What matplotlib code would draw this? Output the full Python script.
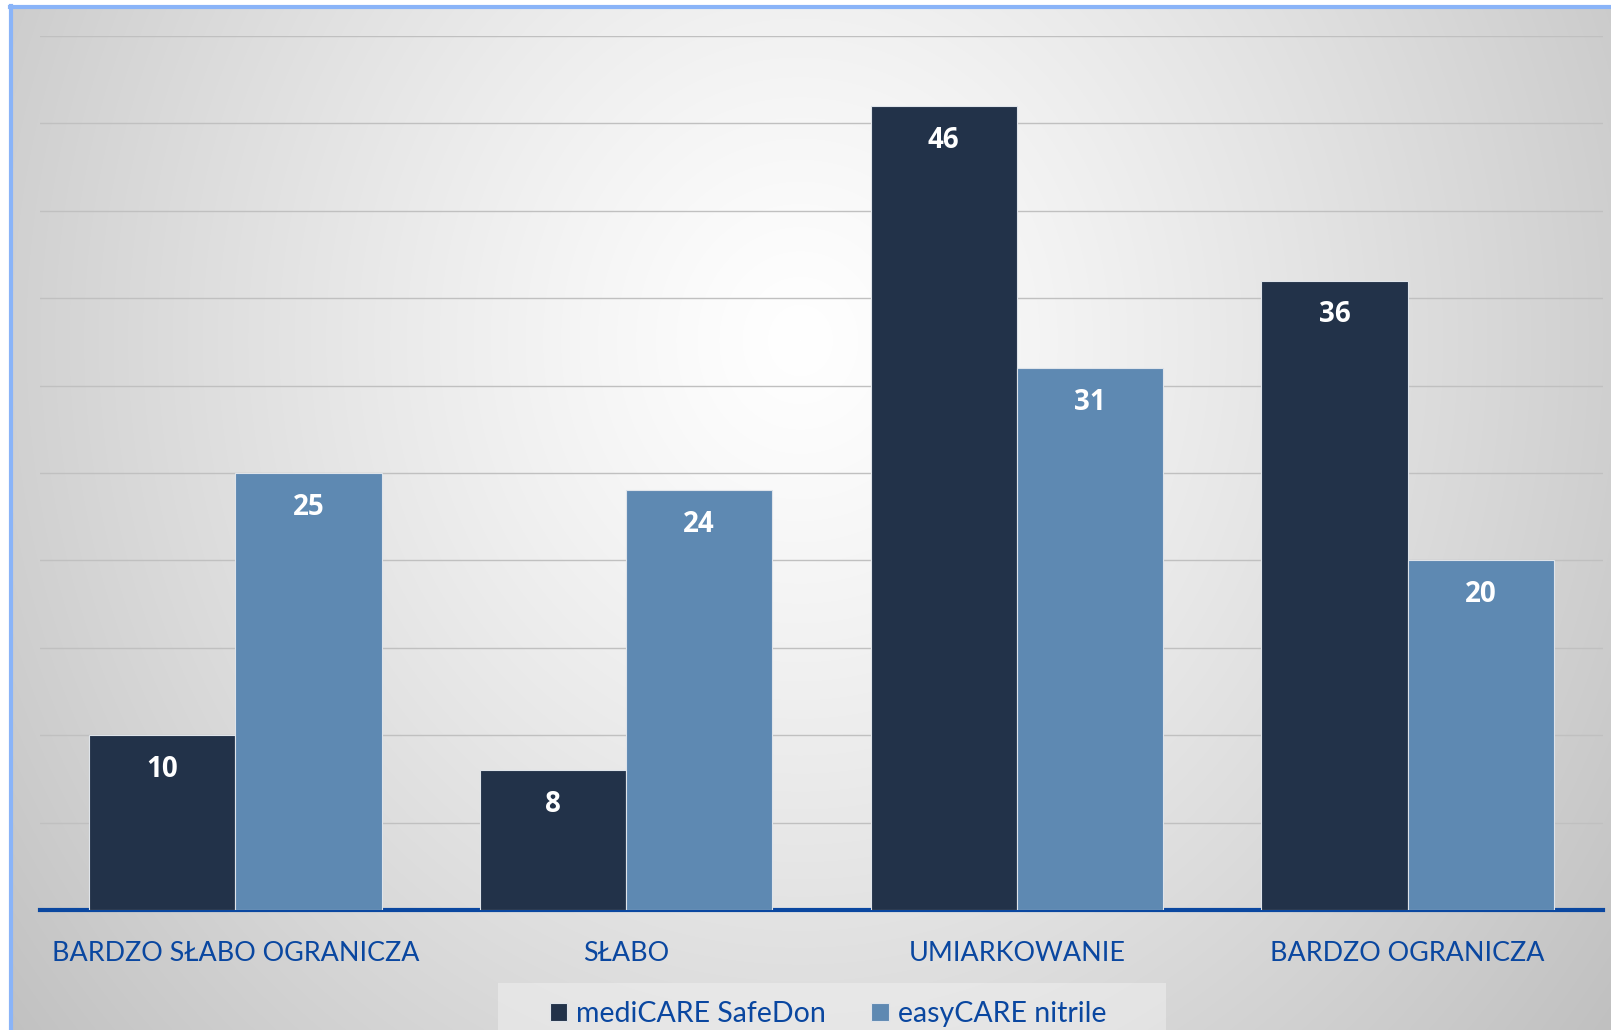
import matplotlib.pyplot as plt
import numpy as np

categories = ["BARDZO SŁABO OGRANICZA", "SŁABO", "UMIARKOWANIE", "BARDZO OGRANICZA"]
medicare = [10, 8, 46, 36]
easycare = [25, 24, 31, 20]
series_names = ["mediCARE SafeDon", "easyCARE nitrile"]

W, H = 1611, 1030
fig = plt.figure(figsize=(W / 100, H / 100), dpi=100)
fig.patch.set_facecolor("white")

# radial gradient background
bg = fig.add_axes([0, 0, 1, 1], zorder=0)
yy, xx = np.mgrid[0:H, 0:W]
d = np.sqrt(((xx - 800) / 1000.0) ** 2 + ((yy - 340) / 1100.0) ** 2)
g = np.clip(1.0 - 0.24 * d ** 1.2, 0, 1)
img = np.dstack([g, g, g])
img[:6, :, :] = 1.0
img[:, :10, :] = 1.0
bg.imshow(img, extent=(0, W, H, 0), aspect="auto", interpolation="bilinear")
# light blue frame
bg.plot([11, 11], [6, H], color="#8ab4f8", lw=3)
bg.plot([10, W], [7, 7], color="#8ab4f8", lw=3)
# lighter legend area
bg.add_patch(plt.Rectangle((498, 983), 668, 60, color="#f4f4f4", alpha=0.45, lw=0))
bg.set_xlim(0, W)
bg.set_ylim(H, 0)
bg.axis("off")

ax = fig.add_axes([40 / W, (H - 910) / H, (1603 - 40) / W, (910 - 36) / H], zorder=1)
ax.patch.set_alpha(0)

x = np.arange(len(categories))
bw = 0.374
dark = "#223249"
light = "#5e89b2"
b1 = ax.bar(x - bw / 2, medicare, bw, color=dark, edgecolor="#dfe4ea", lw=0.8, zorder=3,
            label=series_names[0])
b2 = ax.bar(x + bw / 2, easycare, bw, color=light, edgecolor="#dfe4ea", lw=0.8, zorder=3,
            label=series_names[1])

for bars, vals in ((b1, medicare), (b2, easycare)):
    for r, v in zip(bars, vals):
        ax.text(r.get_x() + r.get_width() / 2, v - 1.95, str(v), ha="center", va="center",
                color="white", fontsize=20, fontweight="bold", family="Open Sans", zorder=4)

ax.set_xlim(-0.5, 3.5)
ax.set_ylim(0, 50)
ax.set_yticks(np.arange(5, 51, 5))
ax.yaxis.grid(True, color="#c0c0c0", lw=1)
ax.set_axisbelow(True)
ax.tick_params(left=False, labelleft=False, bottom=False)
ax.set_xticks(x)
ax.set_xticklabels(categories, fontsize=19.4, color="#0a47a0", family="Lato")
ax.tick_params(axis="x", pad=18.5)
for s in ("top", "right", "left"):
    ax.spines[s].set_visible(False)
ax.spines["bottom"].set_color("#0a47a0")
ax.spines["bottom"].set_linewidth(3)

leg = fig.legend(handles=[b1, b2], loc="center", bbox_to_anchor=(828 / W, 1 - 1014 / H),
                 ncol=2, frameon=False, prop={"family": "Lato", "size": 20.5},
                 handlelength=0.62, handleheight=0.62, handletextpad=0.3, columnspacing=1.6)
for t in leg.get_texts():
    t.set_color("#0a47a0")

fig.savefig("out.png", dpi=100)
